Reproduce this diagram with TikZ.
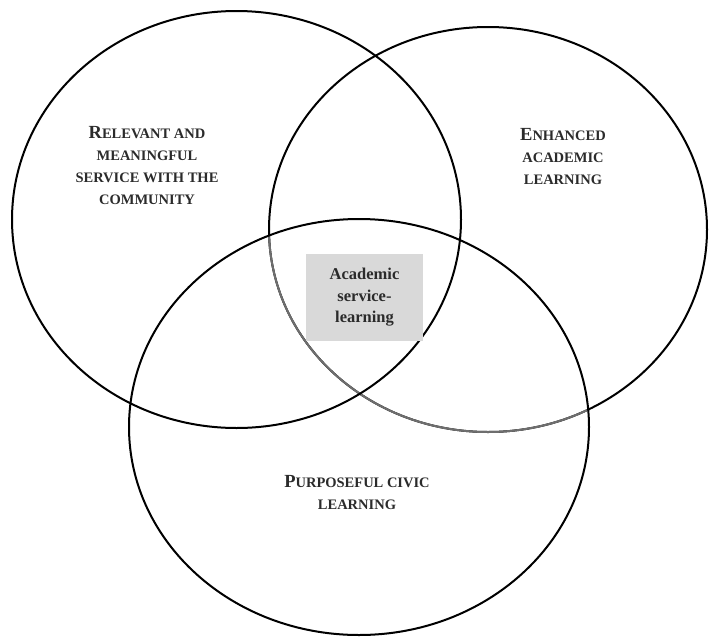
\documentclass[tikz,border=0pt]{standalone}
\usepackage{fontspec}
\setmainfont{Liberation Serif}
\usepackage{tikz}
\usetikzlibrary{shapes.geometric}
\usepackage{xcolor}
\definecolor{coregrey}{HTML}{D9D9D9}
\definecolor{arcgrey}{HTML}{6E6E6E}
\definecolor{inkgrey}{HTML}{2B2B2B}
\tikzstyle{ring} = [draw=black, ellipse, line width=2pt, inner sep=0pt, outer sep=0pt]
\tikzstyle{ringlabel} = [align=center, text=inkgrey, font=\bfseries\fontsize{14.5}{22}\selectfont]
\tikzstyle{corebox} = [fill=coregrey, rectangle, minimum width=117pt, minimum height=87pt, inner sep=0pt]
\tikzstyle{coretext} = [align=center, text=inkgrey, font=\bfseries\fontsize{16.5}{21.5}\selectfont]
\newcommand{\initcap}[1]{{\fontsize{18.5}{22}\selectfont #1}}

\begin{document}
\begin{tikzpicture}[x=1pt, y=-1pt]
\useasboundingbox (0,0) rectangle (709,637);
\node[ring, minimum width=438pt, minimum height=405pt] (academic) at (488,229.5) {};
\begin{scope}
\clip (359,427) ellipse [x radius=230pt, y radius=208pt];
\draw[arcgrey, line width=2pt] (academic.center) ellipse [x radius=219pt, y radius=202.5pt];
\end{scope}
\node[ring, minimum width=460pt, minimum height=416pt] (civic) at (359,427) {};
\node[ring, minimum width=449pt, minimum height=417pt] (service) at (236.5,219.5) {};
\node[corebox] (core) at (364.5,297.5) {};
\node[coretext] (coretext) at (core.center) {Academic\\service-\\learning};
\node[ringlabel] (servicetext) at (147,166) {\initcap{R}ELEVANT AND\\MEANINGFUL\\SERVICE WITH THE\\COMMUNITY};
\node[ringlabel] (academictext) at (563,157) {\initcap{E}NHANCED\\ACADEMIC\\LEARNING};
\node[ringlabel] (civictext) at (357,493) {\initcap{P}URPOSEFUL CIVIC\\LEARNING};
\end{tikzpicture}
\end{document}
